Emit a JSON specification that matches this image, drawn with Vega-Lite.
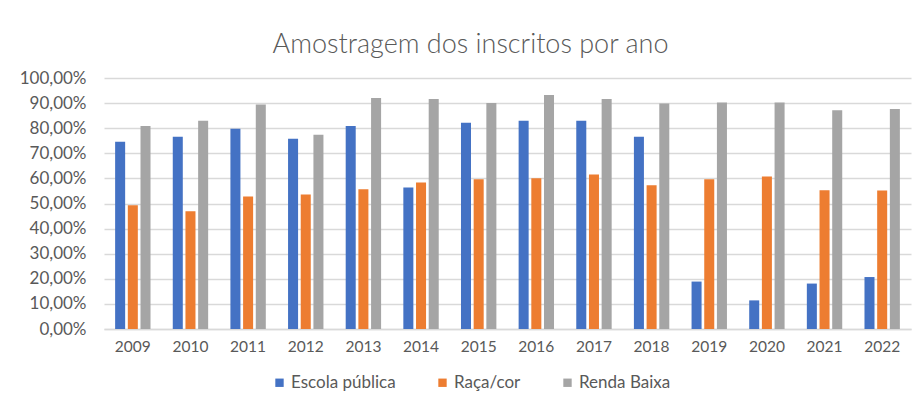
{
  "$schema": "https://vega.github.io/schema/vega-lite/v6.json",
  "autosize": {"type": "none"},
  "width": 807,
  "height": 251,
  "padding": {"left": 104, "top": 78, "right": 10, "bottom": 74},
  "background": "white",
  "title": {
    "text": "Amostragem dos inscritos por ano",
    "font": "Lato",
    "fontSize": 27,
    "fontWeight": 300,
    "color": "#595959",
    "anchor": "middle",
    "offset": 10,
    "dx": -37
  },
  "data": {
    "values": [
      {"ano": "2009", "serie": "Escola pública", "valor": 0.746},
      {"ano": "2009", "serie": "Raça/cor", "valor": 0.493},
      {"ano": "2009", "serie": "Renda Baixa", "valor": 0.809},
      {"ano": "2010", "serie": "Escola pública", "valor": 0.766},
      {"ano": "2010", "serie": "Raça/cor", "valor": 0.469},
      {"ano": "2010", "serie": "Renda Baixa", "valor": 0.830},
      {"ano": "2011", "serie": "Escola pública", "valor": 0.798},
      {"ano": "2011", "serie": "Raça/cor", "valor": 0.528},
      {"ano": "2011", "serie": "Renda Baixa", "valor": 0.894},
      {"ano": "2012", "serie": "Escola pública", "valor": 0.758},
      {"ano": "2012", "serie": "Raça/cor", "valor": 0.536},
      {"ano": "2012", "serie": "Renda Baixa", "valor": 0.774},
      {"ano": "2013", "serie": "Escola pública", "valor": 0.809},
      {"ano": "2013", "serie": "Raça/cor", "valor": 0.557},
      {"ano": "2013", "serie": "Renda Baixa", "valor": 0.920},
      {"ano": "2014", "serie": "Escola pública", "valor": 0.564},
      {"ano": "2014", "serie": "Raça/cor", "valor": 0.584},
      {"ano": "2014", "serie": "Renda Baixa", "valor": 0.916},
      {"ano": "2015", "serie": "Escola pública", "valor": 0.822},
      {"ano": "2015", "serie": "Raça/cor", "valor": 0.597},
      {"ano": "2015", "serie": "Renda Baixa", "valor": 0.900},
      {"ano": "2016", "serie": "Escola pública", "valor": 0.830},
      {"ano": "2016", "serie": "Raça/cor", "valor": 0.601},
      {"ano": "2016", "serie": "Renda Baixa", "valor": 0.932},
      {"ano": "2017", "serie": "Escola pública", "valor": 0.830},
      {"ano": "2017", "serie": "Raça/cor", "valor": 0.616},
      {"ano": "2017", "serie": "Renda Baixa", "valor": 0.916},
      {"ano": "2018", "serie": "Escola pública", "valor": 0.766},
      {"ano": "2018", "serie": "Raça/cor", "valor": 0.573},
      {"ano": "2018", "serie": "Renda Baixa", "valor": 0.898},
      {"ano": "2019", "serie": "Escola pública", "valor": 0.189},
      {"ano": "2019", "serie": "Raça/cor", "valor": 0.597},
      {"ano": "2019", "serie": "Renda Baixa", "valor": 0.902},
      {"ano": "2020", "serie": "Escola pública", "valor": 0.114},
      {"ano": "2020", "serie": "Raça/cor", "valor": 0.608},
      {"ano": "2020", "serie": "Renda Baixa", "valor": 0.902},
      {"ano": "2021", "serie": "Escola pública", "valor": 0.181},
      {"ano": "2021", "serie": "Raça/cor", "valor": 0.553},
      {"ano": "2021", "serie": "Renda Baixa", "valor": 0.872},
      {"ano": "2022", "serie": "Escola pública", "valor": 0.207},
      {"ano": "2022", "serie": "Raça/cor", "valor": 0.552},
      {"ano": "2022", "serie": "Renda Baixa", "valor": 0.876}
    ]
  },
  "mark": {"type": "bar"},
  "encoding": {
    "x": {
      "field": "ano",
      "type": "nominal",
      "title": null,
      "scale": {"paddingInner": 0.386, "paddingOuter": 0.193},
      "axis": {
        "labelAngle": 0,
        "labelFont": "Lato",
        "labelFontSize": 15.5,
        "labelColor": "#595959",
        "labelPadding": 10,
        "ticks": false,
        "domain": true,
        "domainColor": "#d9d9d9",
        "domainWidth": 1.5
      }
    },
    "xOffset": {
      "field": "serie",
      "type": "nominal",
      "scale": {"paddingInner": 0.21, "paddingOuter": 0}
    },
    "y": {
      "field": "valor",
      "type": "quantitative",
      "title": null,
      "scale": {"domain": [0, 1], "nice": false},
      "axis": {
        "values": [0, 0.1, 0.2, 0.3, 0.4, 0.5, 0.6, 0.7, 0.8, 0.9, 1],
        "labelExpr": "replace(format(datum.value, '.2%'), '.', ',')",
        "labelFont": "Lato",
        "labelFontSize": 17,
        "labelColor": "#595959",
        "labelPadding": 18,
        "ticks": false,
        "domain": false,
        "grid": true,
        "gridColor": "#d9d9d9",
        "gridWidth": 1.5
      }
    },
    "color": {
      "field": "serie",
      "type": "nominal",
      "title": null,
      "scale": {
        "domain": ["Escola pública", "Raça/cor", "Renda Baixa"],
        "range": ["#4472C4", "#ED7D31", "#A5A5A5"]
      },
      "legend": {
        "orient": "none",
        "direction": "horizontal",
        "legendX": 167,
        "legendY": 296,
        "symbolType": "square",
        "symbolSize": 70,
        "symbolStrokeWidth": 0,
        "labelFont": "Lato",
        "labelFontSize": 17,
        "labelColor": "#595959",
        "labelOffset": 3,
        "columnPadding": 38,
        "padding": 0
      }
    }
  },
  "config": {
    "view": {"stroke": null}
  }
}
